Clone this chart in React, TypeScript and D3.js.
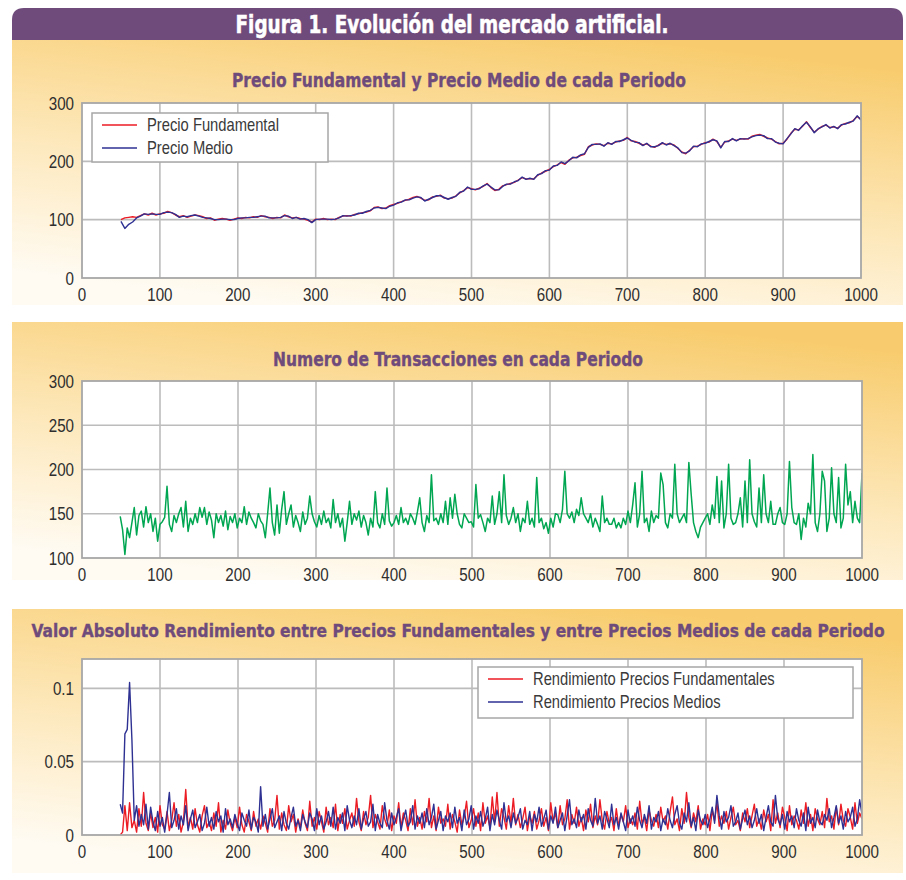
import React from 'react';
import * as d3 from 'd3';

// ---- data ----
const X_TICKS = [0, 100, 200, 300, 400, 500, 600, 700, 800, 900, 1000];

// prices, one value every 5 periods starting at period 50
const PRICE_START = 50;
const PRICE_STEP = 5;
const precioFundamental = [
  100, 103, 104, 105, 104, 107, 110, 108, 111, 108,
  110, 111, 114, 112, 108, 105, 107, 104, 106, 108,
  107, 105, 102, 103, 99, 101, 102, 101, 99, 101,
  103, 102, 104, 103, 105, 104, 107, 105, 104, 102,
  104, 103, 108, 105, 103, 104, 102, 101, 99, 96,
  101, 100, 102, 100, 101, 100, 104, 106, 107, 106,
  109, 110, 112, 113, 115, 121, 122, 119, 120, 124,
  126, 128, 131, 133, 135, 138, 140, 137, 133, 134,
  139, 140, 142, 137, 136, 137, 141, 146, 150, 155,
  153, 151, 154, 157, 162, 155, 150, 152, 158, 160,
  162, 164, 168, 172, 170, 170, 170, 176, 180, 183,
  186, 191, 194, 198, 195, 202, 206, 207, 210, 212,
  225, 228, 230, 229, 227, 231, 230, 233, 235, 236,
  241, 235, 234, 231, 228, 230, 226, 224, 228, 231,
  229, 230, 228, 222, 216, 213, 219, 225, 226, 229,
  232, 233, 238, 234, 224, 233, 235, 238, 236, 238,
  239, 238, 243, 245, 246, 243, 240, 238, 234, 230,
  231, 238, 248, 255, 254, 260, 268, 258, 250, 255,
  260, 262, 258, 259, 257, 262, 265, 266, 270, 277,
  272,
];
const precioMedio = [
  97, 85, 92, 96, 103, 106, 110, 109, 110, 109,
  109, 112, 113, 112, 109, 104, 106, 105, 107, 108,
  106, 104, 103, 102, 100, 100, 101, 101, 100, 100,
  102, 103, 103, 104, 104, 105, 106, 106, 103, 103,
  103, 104, 107, 106, 102, 104, 101, 102, 100, 95,
  100, 101, 101, 101, 100, 101, 103, 107, 106, 107,
  108, 111, 111, 114, 116, 120, 121, 120, 119, 123,
  125, 129, 130, 134, 134, 137, 139, 138, 132, 135,
  138, 141, 141, 138, 135, 138, 140, 147, 149, 156,
  152, 152, 153, 158, 161, 156, 151, 151, 157, 161,
  161, 165, 167, 173, 169, 171, 169, 177, 179, 184,
  185, 192, 193, 199, 196, 201, 207, 206, 211, 213,
  224, 229, 229, 230, 226, 232, 229, 234, 234, 237,
  240, 236, 233, 232, 227, 231, 225, 225, 227, 232,
  228, 231, 227, 223, 215, 214, 218, 226, 225, 230,
  231, 234, 237, 235, 223, 234, 234, 239, 235, 239,
  238, 239, 242, 244, 245, 244, 239, 239, 233, 231,
  230, 239, 247, 256, 253, 261, 267, 259, 249, 256,
  259, 263, 257, 260, 256, 263, 264, 267, 269, 278,
  271,
];

// transactions and returns, one value every 3 periods starting at period 49
const STEP3_START = 49;
const STEP3 = 3;
const transacciones = [
  147, 132, 104, 134, 123, 140, 157, 126, 148, 153,
  135, 158, 140, 150, 130, 145, 119, 138, 141, 146,
  181, 138, 130, 148, 140, 150, 157, 135, 164, 130,
  145, 138, 150, 140, 157, 146, 157, 138, 152, 143,
  123, 150, 140, 148, 136, 153, 132, 147, 140, 150,
  134, 145, 140, 158, 138, 152, 145, 140, 134, 150,
  142, 138, 123, 150, 179, 140, 126, 160, 128, 155,
  175, 138, 150, 160, 135, 148, 140, 130, 152, 138,
  145, 170, 150, 141, 135, 148, 138, 153, 140, 145,
  134, 166, 140, 150, 135, 145, 119, 140, 164, 138,
  150, 143, 153, 135, 148, 140, 126, 145, 135, 175,
  140, 134, 150, 138, 179, 142, 136, 140, 148, 138,
  157, 140, 145, 138, 150, 145, 138, 152, 168, 140,
  130, 148, 140, 194, 142, 145, 138, 150, 140, 164,
  138, 168, 145, 172, 150, 138, 134, 150, 145, 140,
  141, 135, 183, 145, 149, 140, 130, 145, 140, 170,
  138, 150, 175, 140, 194, 148, 138, 145, 157, 140,
  150, 130, 145, 140, 164, 138, 145, 135, 191, 140,
  145, 133, 140, 128, 145, 135, 150, 149, 140, 155,
  198, 150, 145, 152, 140, 155, 148, 168, 150, 145,
  140, 150, 135, 145, 138, 130, 170, 140, 145, 138,
  138, 145, 134, 140, 134, 145, 138, 153, 140, 160,
  185, 135, 150, 198, 140, 145, 130, 153, 140, 148,
  145, 196, 183, 140, 134, 150, 145, 206, 150, 140,
  145, 150, 140, 208, 172, 140, 130, 123, 135, 140,
  145, 150, 138, 160, 145, 192, 140, 187, 134, 150,
  206, 145, 138, 140, 150, 168, 135, 187, 140, 211,
  150, 141, 135, 179, 140, 194, 150, 140, 164, 138,
  138, 150, 157, 140, 138, 150, 209, 157, 140, 138,
  150, 121, 145, 135, 162, 150, 217, 140, 130, 150,
  198, 187, 130, 145, 202, 150, 140, 191, 134, 145,
  206, 160, 175, 140, 164, 145, 140, 196,
];

// absolute returns, in thousandths
const rendFundamentalX1000 = [
  0, 2, 20, 3, 22, 5, 10, 2, 18, 6,
  29, 8, 3, 15, 5, 12, 2, 20, 7, 4,
  16, 3, 10, 22, 6, 14, 2, 9, 31, 5,
  12, 4, 18, 7, 2, 13, 20, 5, 9, 3,
  15, 6, 22, 2, 10, 4, 17, 8, 3, 12,
  5, 19, 7, 2, 14, 9, 3, 16, 6, 11,
  4, 13, 8, 2, 18, 6, 10, 27, 4, 15,
  7, 3, 20, 9, 14, 2, 11, 5, 17, 8,
  3, 23, 6, 12, 4, 16, 9, 2, 19, 7,
  12, 5, 21, 3, 14, 8, 18, 4, 10, 15,
  6, 25, 9, 3, 16, 7, 12, 27, 5, 14,
  9, 4, 20, 11, 6, 17, 3, 13, 8, 22,
  5, 15, 10, 3, 18, 7, 24, 6, 12, 4,
  16, 9, 25, 5, 13, 3, 19, 8, 11, 6,
  21, 4, 14, 9, 2, 17, 7, 12, 23, 5,
  10, 18, 6, 15, 3, 22, 8, 13, 5, 26,
  9, 29, 6, 18, 12, 4, 20, 8, 25, 7,
  14, 5, 11, 19, 3, 13, 8, 16, 4, 10,
  18, 6, 12, 3, 22, 9, 15, 5, 20, 7,
  11, 24, 4, 14, 8, 19, 6, 12, 3, 17,
  9, 21, 5, 13, 7, 24, 10, 4, 16, 8,
  12, 3, 18, 6, 14, 9, 20, 5, 11, 7,
  15, 4, 23, 8, 12, 3, 17, 10, 6, 14,
  5, 19, 9, 13, 4, 16, 26, 7, 11, 3,
  18, 8, 29, 12, 5, 15, 9, 20, 4, 11,
  7, 14, 3, 17, 10, 22, 6, 13, 8, 16,
  4, 12, 19, 7, 10, 3, 15, 9, 18, 5,
  13, 21, 6, 11, 4, 17, 9, 14, 3, 24,
  8, 15, 5, 19, 12, 3, 20, 7, 13, 10,
  4, 17, 8, 22, 6, 14, 3, 18, 11, 7,
  16, 5, 25, 9, 13, 4, 19, 7, 21, 10,
  6, 18, 12, 4, 22, 8, 15, 11,
];
const rendMedioX1000 = [
  21, 15, 69, 72, 104, 65, 10, 20, 6, 14,
  7, 21, 4, 19, 9, 3, 16, 6, 12, 2,
  14, 29, 5, 10, 18, 4, 13, 7, 20, 3,
  11, 17, 5, 9, 14, 3, 8, 19, 6, 12,
  4, 16, 9, 13, 2, 18, 7, 11, 5, 14,
  8, 3, 15, 10, 6, 17, 4, 12, 9, 2,
  33, 6, 14, 4, 11, 18, 5, 9, 13, 3,
  16, 8, 4, 12, 19, 6, 10, 3, 14, 9,
  5, 15, 11, 3, 18, 7, 13, 4, 9, 16,
  6, 19, 4, 12, 8, 15, 3, 20, 10, 5,
  13, 7, 18, 4, 11, 16, 6, 9, 21, 3,
  14, 8, 5, 22, 10, 4, 15, 7, 12, 18,
  3, 11, 17, 6, 9, 20, 4, 13, 8, 15,
  5, 18, 7, 12, 21, 4, 10, 16, 3, 13,
  9, 15, 5, 19, 8, 12, 3, 17, 7, 11,
  20, 4, 13, 8, 16, 6, 11, 19, 3, 14,
  7, 17, 10, 4, 22, 9, 13, 5, 15, 8,
  12, 18, 4, 10, 7, 16, 3, 14, 9, 19,
  6, 11, 17, 4, 13, 8, 19, 5, 10, 15,
  3, 13, 24, 7, 11, 5, 17, 9, 14, 4,
  18, 10, 6, 25, 8, 13, 4, 16, 11, 5,
  21, 7, 12, 4, 15, 9, 3, 17, 8, 13,
  6, 19, 10, 5, 14, 8, 20, 4, 12, 9,
  16, 3, 11, 7, 18, 10, 5, 14, 20, 8,
  4, 15, 9, 22, 6, 12, 3, 17, 10, 7,
  14, 5, 11, 19, 8, 27, 13, 4, 16, 9,
  12, 20, 6, 9, 15, 4, 11, 17, 7, 13,
  5, 10, 18, 8, 14, 3, 12, 20, 9, 6,
  27, 11, 7, 14, 4, 16, 9, 13, 5, 18,
  10, 6, 15, 3, 19, 8, 12, 5, 17, 9,
  7, 14, 10, 18, 5, 12, 20, 8, 13, 4,
  16, 9, 12, 19, 6, 11, 24, 14,
];

const Y1_TICKS = [0, 100, 200, 300];
const Y2_TICKS = [100, 150, 200, 250, 300];
const Y3_TICKS = [0, 0.05, 0.1];
const Y3_LABELS = ['0', '0.05', '0.1'];

const RED = '#ec1c24';
const BLUE = '#2e3192';
const GREEN = '#00a651';
const PURPLE = '#6f4b7b';
const GRID = '#bcbcbc';
const TITLE_FONT = '"DejaVu Sans Condensed", "DejaVu Sans", sans-serif';
const FONT = '"Liberation Sans", Arial, sans-serif';
const NARROW = 0.82; // horizontal squeeze to mimic a narrow face

type Series = { values: number[]; start: number; step: number; color: string; width: number };
type LegendItem = { label: string; color: string };

// text squeezed horizontally, like a narrow sans
const NarrowText: React.FC<{ x: number; y: number; anchor?: string; size: number; fill: string; children: React.ReactNode }> =
  ({ x, y, anchor = 'start', size, fill, children }) => (
    <text transform={`translate(${x},${y}) scale(${NARROW},1)`} dy="0.36em" textAnchor={anchor}
      fontFamily={FONT} fontSize={size} fill={fill}>{children}</text>
  );

interface PanelProps {
  id: string;
  top: number;
  bottom: number;
  title: string;
  titleY: number;
  titleX: number;
  titleW: number;
  titleSize: number;
  plot: { x0: number; x1: number; y0: number; y1: number };
  yDomain: [number, number];
  yTicks: number[];
  yLabels?: string[];
  series: Series[];
  legend?: { x: number; y: number; w: number; h: number; items: LegendItem[] };
}

const Panel: React.FC<PanelProps> = (p) => {
  const x = d3.scaleLinear().domain([0, 1000]).range([p.plot.x0, p.plot.x1]);
  const y = d3.scaleLinear().domain(p.yDomain).range([p.plot.y1, p.plot.y0]);
  const lines = p.series.map((s) =>
    d3.line<number>()
      .x((_, i) => x(s.start + i * s.step))
      .y((d) => y(d))(s.values) as string
  );
  const pw = p.plot.x1 - p.plot.x0;
  const ph = p.plot.y1 - p.plot.y0;
  return (
    <g>
      <rect x={12} y={p.top} width={891} height={p.bottom - p.top} fill={`url(#${p.id})`} />
      <text x={p.titleX} y={p.titleY} textAnchor="middle" fontFamily={TITLE_FONT} fontWeight="bold"
        fontSize={p.titleSize} fill={PURPLE} stroke={PURPLE} strokeWidth={0.35}
        textLength={p.titleW} lengthAdjust="spacingAndGlyphs">{p.title}</text>
      <rect x={p.plot.x0} y={p.plot.y0} width={pw} height={ph} fill="#fff" />
      {X_TICKS.slice(1, -1).map((t) => (
        <line key={'gx' + t} x1={x(t)} x2={x(t)} y1={p.plot.y0} y2={p.plot.y1} stroke={GRID} strokeWidth={1.6} />
      ))}
      {p.yTicks.filter((t) => t !== p.yDomain[0] && t !== p.yDomain[1]).map((t) => (
        <line key={'gy' + t} x1={p.plot.x0} x2={p.plot.x1} y1={y(t)} y2={y(t)} stroke={GRID} strokeWidth={1.6} />
      ))}
      <clipPath id={p.id + '-clip'}>
        <rect x={p.plot.x0} y={p.plot.y0 - 2} width={pw} height={ph + 2} />
      </clipPath>
      <g clipPath={`url(#${p.id}-clip)`}>
        {lines.map((d, i) => (
          <path key={i} d={d} fill="none" stroke={p.series[i].color} strokeWidth={p.series[i].width} strokeLinejoin="round" />
        ))}
      </g>
      <rect x={p.plot.x0} y={p.plot.y0} width={pw} height={ph} fill="none" stroke="#a7a7a7" strokeWidth={1.8} />
      {p.yTicks.map((t, i) => (
        <NarrowText key={'ly' + t} x={p.plot.x0 - 8} y={y(t)} anchor="end" size={18.5} fill="#2e2e2e">
          {p.yLabels ? p.yLabels[i] : String(t)}
        </NarrowText>
      ))}
      {X_TICKS.map((t) => (
        <NarrowText key={'lx' + t} x={x(t)} y={p.plot.y1 + 16} anchor="middle" size={18.5} fill="#2e2e2e">{t}</NarrowText>
      ))}
      {p.legend && (
        <g>
          <rect x={p.legend.x} y={p.legend.y} width={p.legend.w} height={p.legend.h} fill="#fff"
            stroke="#a7a7a7" strokeWidth={1.5} />
          {p.legend.items.map((it, i) => {
            const ly = p.legend!.y + 12 + i * 23;
            return (
              <g key={it.label}>
                <line x1={p.legend!.x + 10} x2={p.legend!.x + 45} y1={ly} y2={ly} stroke={it.color} strokeWidth={1.4} />
                <NarrowText x={p.legend!.x + 55} y={ly} size={18} fill="#3a3a3a">{it.label}</NarrowText>
              </g>
            );
          })}
        </g>
      )}
    </g>
  );
};

export default function App() {
  const panels: PanelProps[] = [
    {
      id: 'p1', top: 40, bottom: 305,
      title: 'Precio Fundamental y Precio Medio de cada Periodo', titleX: 459, titleY: 87, titleW: 454, titleSize: 19,
      plot: { x0: 82, x1: 861, y0: 103, y1: 278 },
      yDomain: [0, 300], yTicks: Y1_TICKS,
      series: [
        { values: precioFundamental, start: PRICE_START, step: PRICE_STEP, color: RED, width: 1.4 },
        { values: precioMedio, start: PRICE_START, step: PRICE_STEP, color: BLUE, width: 1.4 },
      ],
      legend: { x: 92, y: 113, w: 236, h: 49, items: [
        { label: 'Precio Fundamental', color: RED },
        { label: 'Precio Medio', color: BLUE },
      ] },
    },
    {
      id: 'p2', top: 322, bottom: 580,
      title: 'Numero de Transacciones en cada Periodo', titleX: 458, titleY: 366, titleW: 370, titleSize: 19,
      plot: { x0: 82, x1: 862, y0: 381, y1: 558 },
      yDomain: [100, 300], yTicks: Y2_TICKS,
      series: [{ values: transacciones, start: STEP3_START, step: STEP3, color: GREEN, width: 1.5 }],
    },
    {
      id: 'p3', top: 609, bottom: 873,
      title: 'Valor Absoluto Rendimiento entre Precios Fundamentales y entre Precios Medios de cada Periodo',
      titleX: 458, titleY: 637, titleW: 853, titleSize: 17,
      plot: { x0: 82, x1: 862, y0: 659, y1: 835 },
      yDomain: [0, 0.12], yTicks: Y3_TICKS, yLabels: Y3_LABELS,
      series: [
        { values: rendFundamentalX1000.map((v) => v / 1000), start: STEP3_START, step: STEP3, color: RED, width: 1.4 },
        { values: rendMedioX1000.map((v) => v / 1000), start: STEP3_START, step: STEP3, color: BLUE, width: 1.4 },
      ],
      legend: { x: 478, y: 667, w: 375, h: 51, items: [
        { label: 'Rendimiento Precios Fundamentales', color: RED },
        { label: 'Rendimiento Precios Medios', color: BLUE },
      ] },
    },
  ];

  return (
    <svg width={906} height={880} style={{ position: 'absolute', left: 0, top: 0, background: '#fff' }}>
      <defs>
        {panels.map((p) => (
          <linearGradient key={p.id} id={p.id} x1="0.3" y1="1" x2="0.7" y2="0">
            <stop offset="0" stopColor="#fffbf3" />
            <stop offset="0.45" stopColor="#fde8bb" />
            <stop offset="1" stopColor="#f8cc6e" />
          </linearGradient>
        ))}
      </defs>
      <path d="M12,40 V20 Q12,8 24,8 H891 Q903,8 903,20 V40 Z" fill={PURPLE} />
      <text x={452} y={33} textAnchor="middle" fontFamily={TITLE_FONT} fontWeight="bold" fontSize={24}
        fill="#fff" stroke="#fff" strokeWidth={0.5}
        textLength={433} lengthAdjust="spacingAndGlyphs">Figura 1. Evolución del mercado artificial.</text>
      {panels.map((p) => <Panel key={p.id} {...p} />)}
    </svg>
  );
}
